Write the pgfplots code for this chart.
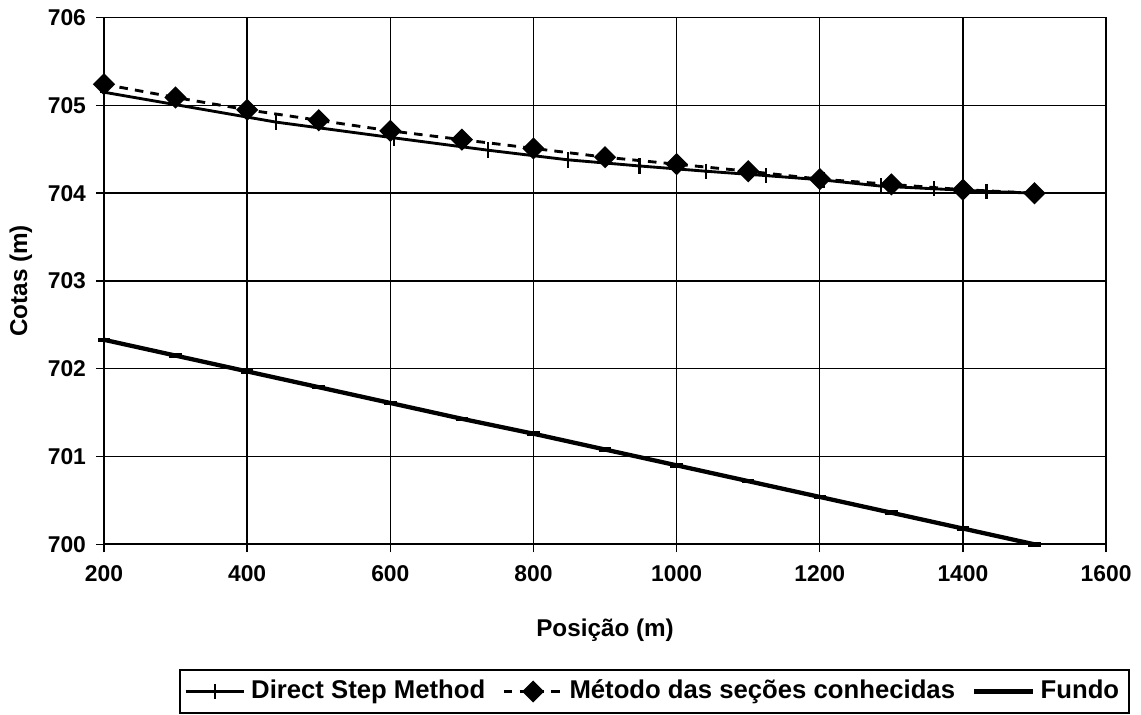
\documentclass[border=0pt]{standalone}
\usepackage{fontspec}
\setmainfont{Liberation Sans}
\usepackage{pgfplots}
\pgfplotsset{compat=1.18}

\begin{document}
\begin{tikzpicture}
\begin{axis}[
  scale only axis,
  width=351pt, height=184.5pt,
  xmin=200, xmax=1600, ymin=700, ymax=706,
  xtick={200,400,...,1600}, ytick={700,...,706},
  /pgf/number format/assume math mode=true,
  /pgf/number format/1000 sep={},
  tick label style={font=\fontsize{8}{9}\selectfont\bfseries},
  xticklabel style={yshift=-1pt},
  label style={font=\fontsize{8.5}{10}\selectfont\bfseries},
  xlabel={Posição (m)}, ylabel={Cotas (m)},
  xlabel style={at={(axis description cs:0.5,-0.163)}, anchor=center},
  ylabel style={at={(axis description cs:-0.083,0.5)}, anchor=center},
  grid=major, grid style={black, line width=0.5pt},
  axis line style={black, line width=0.6pt},
  tick pos=left, tick align=outside, major tick length=2.8pt,
  tick style={black, line width=0.5pt},
  legend columns=3,
  legend style={at={(1.024,-0.236)}, anchor=north east, draw=black,
    line width=0.7pt, font=\fontsize{9}{10}\selectfont\bfseries,
    inner xsep=1.5pt, inner ysep=1.6pt,
    /tikz/every even column/.append style={column sep=4pt}},
  legend image code/.code={
    \draw[mark repeat=2, mark phase=2, #1] plot coordinates {(0cm,0cm) (0.36cm,0cm) (0.72cm,0cm)};
  },
]
\addplot[black, line width=1pt, mark=+, mark size=1.5pt,
  mark options={yscale=1.8, line width=0.8pt, solid}]
coordinates {(200,705.15)(440,704.81)(605,704.63)(736,704.49)(848,704.38)(948,704.31)(1041,704.25)(1125,704.20)(1205,704.15)(1286,704.08)(1360,704.05)(1433,704.02)(1500,704.00)};
\addlegendentry{Direct Step Method}
\addplot[black, line width=1pt, dash pattern=on 3pt off 2.5pt, mark=square*, mark size=2.25pt,
  mark options={rotate=45, solid}]
coordinates {(200,705.24)(300,705.09)(400,704.95)(500,704.83)(600,704.71)(700,704.61)(800,704.51)(900,704.41)(1000,704.33)(1100,704.25)(1200,704.16)(1300,704.10)(1400,704.04)(1500,704.00)};
\addlegendentry{Método das seções conhecidas}
\addplot[black, line width=1.5pt, mark=-, mark size=2.2pt, mark options={solid, line width=1.6pt}]
coordinates {(200,702.33)(300,702.15)(400,701.97)(500,701.79)(600,701.61)(700,701.43)(800,701.26)(900,701.08)(1000,700.90)(1100,700.72)(1200,700.54)(1300,700.36)(1400,700.18)(1500,700.00)};
\addlegendentry{Fundo}
\path (rel axis cs:-0.1099,1.0513) (rel axis cs:1.030,-0.306);
\end{axis}
\end{tikzpicture}
\end{document}
